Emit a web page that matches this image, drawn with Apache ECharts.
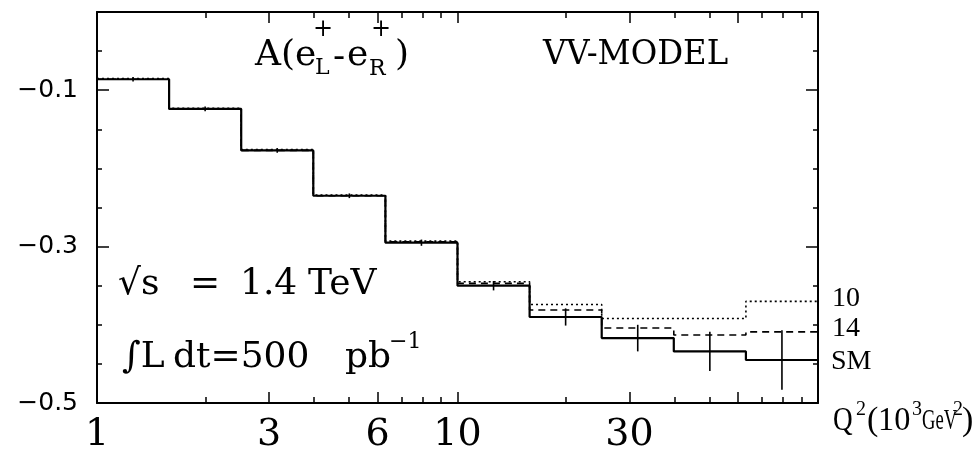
<!DOCTYPE html>
<html>
<head>
<meta charset="utf-8">
<script src="https://cdn.jsdelivr.net/npm/echarts@6/dist/echarts.min.js"></script>
<style>
  html, body { margin: 0; padding: 0; background: #fff; }
  #chart { width: 973px; height: 459px; }
</style>
</head>
<body>
<div id="chart"></div>
<script>
// Q^2 bins in units of 10^3 GeV^2 (five bins per decade)
const binEdges   = [1, 1.585, 2.512, 3.981, 6.310, 10, 15.85, 25.12, 39.81, 63.10, 100];
const binCenters = [1.259, 1.995, 3.162, 5.012, 7.943, 12.59, 19.95, 31.62, 50.12, 79.43];

// Polarisation asymmetry A(e+_L - e+_R) per bin
const asymSM = [-0.086, -0.124, -0.177, -0.235, -0.295, -0.350, -0.390, -0.417, -0.434, -0.445];
const asym14 = [-0.086, -0.124, -0.177, -0.235, -0.294, -0.347, -0.381, -0.404, -0.413, -0.409];
const asym10 = [-0.085, -0.123, -0.176, -0.234, -0.293, -0.345, -0.374, -0.392, -0.392, -0.370];
// statistical error of the SM expectation (500 pb^-1)
const asymErr = [0.003, 0.003, 0.003, 0.003, 0.004, 0.006, 0.011, 0.017, 0.025, 0.038];

// axis ticks and labels
const xTickLabels = [1, 3, 6, 10, 30];
const xLongTicks  = [3, 6, 10, 30, 60];
const xShortTicks = [2, 4, 5, 7, 8, 9, 20, 40, 50, 70, 80, 90];
const yTickLabels = [-0.5, -0.3, -0.1];

const BLACK = '#000';
const SERIF = 'DejaVu Serif';
const TIMES = 'Liberation Serif';

// histogram outline: one point per lower bin edge plus the last upper edge
function stepPoints(values) {
  const pts = values.map((v, i) => [binEdges[i], v]);
  pts.push([binEdges[binEdges.length - 1], values[values.length - 1]]);
  return pts;
}

function minusFmt(v) {
  return (v < 0 ? '\u2212' : '') + Math.abs(v).toFixed(1);
}

function xAxisDef(position, ticks, tickLen, withLine, withLabels) {
  return {
    type: 'log', logBase: 10, min: 1, max: 100, position: position,
    axisLine: { show: withLine, onZero: false, lineStyle: { color: BLACK, width: 2 } },
    axisTick: { show: true, inside: true, length: tickLen, customValues: ticks,
                lineStyle: { color: BLACK, width: 1.5 } },
    axisLabel: withLabels ? {
      show: true, customValues: xTickLabels, margin: 13,
      fontFamily: SERIF, fontSize: 38, color: BLACK
    } : { show: false },
    splitLine: { show: false }
  };
}

function yAxisDef(position, ticks, tickLen, withLine, withLabels) {
  const ax = {
    type: 'value', min: -0.5, max: 0, position: position,
    axisLine: { show: withLine, onZero: false, lineStyle: { color: BLACK, width: 2 } },
    axisTick: { show: true, inside: true, length: tickLen, lineStyle: { color: BLACK, width: 1.5 } },
    axisLabel: withLabels ? {
      show: true, customValues: yTickLabels, formatter: minusFmt, margin: 19,
      fontFamily: 'DejaVu Sans', fontSize: 25, color: BLACK
    } : { show: false },
    splitLine: { show: false }
  };
  if (ticks) ax.axisTick.customValues = ticks; else ax.interval = 0.05;
  return ax;
}

function txt(text, x, y, size, family, sx) {
  return {
    type: 'text', x: x, y: y, scaleX: sx || 1, silent: true,
    style: { text: text, fontSize: size, fontFamily: family, fill: BLACK,
             align: 'left', verticalAlign: 'middle' }
  };
}

const chart = echarts.init(document.getElementById('chart'), null, { renderer: 'canvas' });

chart.setOption({
  animation: false,
  backgroundColor: '#fff',
  grid: { left: 97, top: 12, width: 721, height: 391, containLabel: false },
  xAxis: [
    xAxisDef('bottom', xShortTicks, 6, true, true),
    xAxisDef('bottom', xLongTicks, 11, false, false),
    xAxisDef('top', xShortTicks, 6, true, false),
    xAxisDef('top', xLongTicks, 11, false, false)
  ],
  yAxis: [
    yAxisDef('left', null, 5, true, true),
    yAxisDef('left', yTickLabels, 12, false, false),
    yAxisDef('right', null, 5, true, false),
    yAxisDef('right', yTickLabels, 12, false, false)
  ],
  series: [
    {
      name: '10', type: 'line', step: 'end', data: stepPoints(asym10),
      symbol: 'none', z: 3,
      lineStyle: { color: BLACK, width: 1.6, type: [2, 3] },
      endLabel: { show: true, formatter: '10', distance: 14, color: BLACK,
                  fontFamily: TIMES, fontSize: 28, offset: [0, -3] }
    },
    {
      name: '14', type: 'line', step: 'end', data: stepPoints(asym14),
      symbol: 'none', z: 4,
      lineStyle: { color: BLACK, width: 1.6, type: [7, 5] },
      endLabel: { show: true, formatter: '14', distance: 14, color: BLACK,
                  fontFamily: TIMES, fontSize: 28, offset: [0, -3] }
    },
    {
      name: 'SM', type: 'line', step: 'end', data: stepPoints(asymSM),
      symbol: 'none', z: 5,
      lineStyle: { color: BLACK, width: 2.2 },
      endLabel: { show: true, formatter: 'SM', distance: 13, color: BLACK,
                  fontFamily: TIMES, fontSize: 28, offset: [0, 2] }
    },
    {
      name: 'errors', type: 'custom', z: 6,
      data: binCenters.map((c, i) => [c, asymSM[i], asymErr[i]]),
      renderItem: function (params, api) {
        const x = api.value(0), y = api.value(1), e = api.value(2);
        const top = api.coord([x, y + e]);
        const bot = api.coord([x, y - e]);
        return {
          type: 'line',
          shape: { x1: top[0], y1: top[1], x2: bot[0], y2: bot[1] },
          style: { stroke: BLACK, lineWidth: 1.6 }
        };
      }
    }
  ],
  graphic: [
    // A(e+_L - e+_R)
    txt('A(e', 255, 56, 36, SERIF),
    txt('+', 313, 30, 24, SERIF),
    txt('L', 315, 68, 22, SERIF),
    txt('-', 333, 58, 36, SERIF),
    txt('e', 347, 56, 36, SERIF),
    txt('+', 371, 30, 24, SERIF),
    txt('R', 369, 69, 22, SERIF),
    txt(')', 395, 56, 36, SERIF),
    // model name
    txt('VV-MODEL', 543, 55, 34, SERIF, 0.95),
    // beam energy and luminosity
    txt('\u221As', 118, 285, 36, SERIF),
    txt('=', 190, 285, 36, SERIF),
    txt('1.4', 240, 285, 36, SERIF),
    txt('TeV', 308, 285, 36, SERIF),
    txt('\u222BL', 122, 358, 36, SERIF),
    txt('dt=500', 173, 358, 36, SERIF),
    txt('pb', 345, 358, 36, SERIF),
    txt('\u22121', 389, 342, 22, SERIF),
    // axis title Q^2 (10^3 GeV^2)
    txt('Q', 833, 421, 34, TIMES, 0.8),
    txt('2', 856, 410, 20, TIMES),
    txt('(', 867, 421, 34, TIMES),
    txt('10', 878, 421, 34, TIMES, 0.95),
    txt('3', 912, 410, 20, TIMES),
    txt('GeV', 922, 421, 30, TIMES, 0.62),
    txt('2', 953, 410, 20, TIMES),
    txt(')', 962, 421, 34, TIMES)
  ]
});
</script>
</body>
</html>
